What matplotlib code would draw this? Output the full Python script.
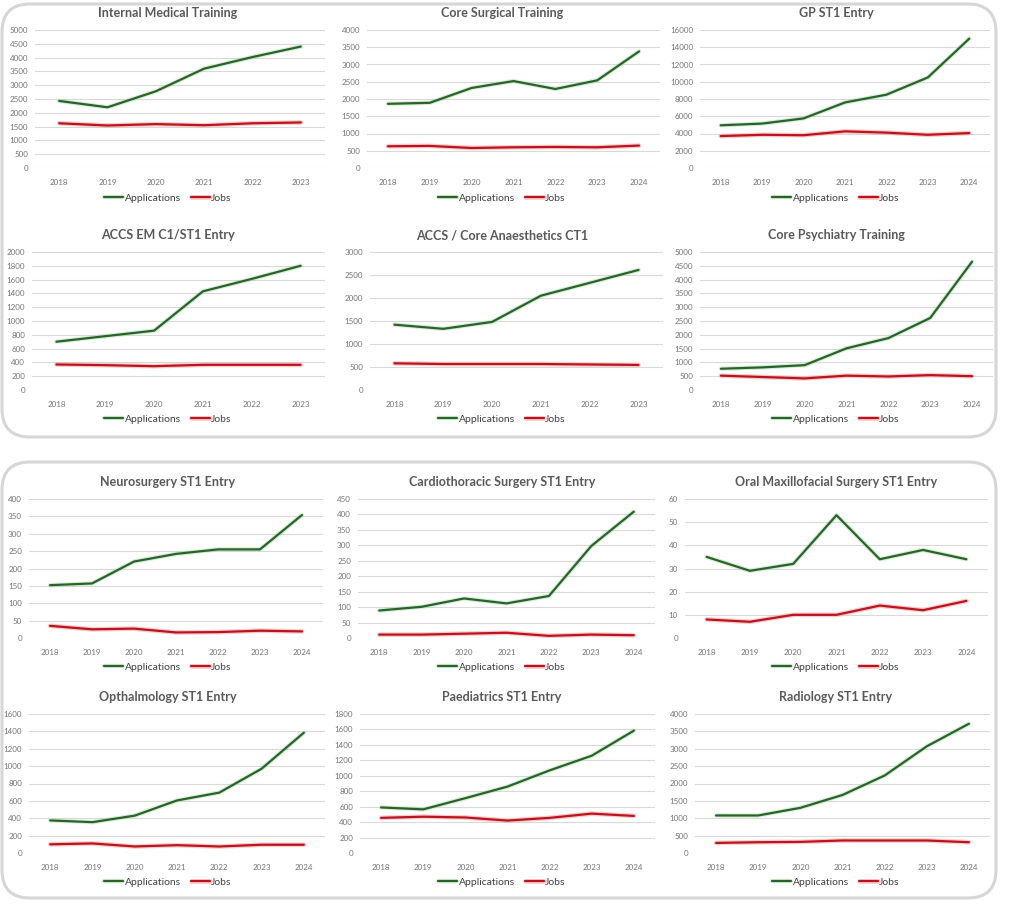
import matplotlib
matplotlib.use("Agg")
import matplotlib.pyplot as plt
import matplotlib.patheffects as pe
from matplotlib.patches import FancyBboxPatch
from matplotlib.transforms import IdentityTransform

# === dane ===
years_6 = ["2018", "2019", "2020", "2021", "2022", "2023"]
years_7 = ["2018", "2019", "2020", "2021", "2022", "2023", "2024"]

titles = [
    "Internal Medical Training", "Core Surgical Training", "GP ST1 Entry",
    "ACCS EM C1/ST1 Entry", "ACCS / Core Anaesthetics CT1", "Core Psychiatry Training",
    "Neurosurgery ST1 Entry", "Cardiothoracic Surgery ST1 Entry", "Oral Maxillofacial Surgery ST1 Entry",
    "Opthalmology ST1 Entry", "Paediatrics ST1 Entry", "Radiology ST1 Entry",
]

imt_apps = [2430, 2200, 2780, 3600, 4020, 4400]
imt_jobs = [1620, 1540, 1590, 1550, 1620, 1650]
cst_apps = [1860, 1890, 2320, 2520, 2290, 2540, 3380]
cst_jobs = [630, 640, 580, 600, 610, 600, 650]
gp_apps = [4950, 5150, 5750, 7600, 8500, 10500, 15000]
gp_jobs = [3700, 3850, 3800, 4250, 4100, 3850, 4050]
accs_em_apps = [700, 780, 860, 1430, 1610, 1800]
accs_em_jobs = [370, 360, 345, 365, 365, 365]
anaes_apps = [1420, 1330, 1480, 2050, 2330, 2610]
anaes_jobs = [580, 565, 565, 565, 555, 545]
psych_apps = [770, 820, 900, 1510, 1880, 2610, 4650]
psych_jobs = [520, 470, 420, 520, 490, 540, 500]
neuro_apps = [152, 157, 220, 242, 255, 255, 354]
neuro_jobs = [35, 25, 27, 16, 17, 21, 19]
cardio_apps = [89, 101, 128, 112, 136, 298, 409]
cardio_jobs = [11, 11, 14, 17, 7, 11, 9]
omfs_apps = [35, 29, 32, 53, 34, 38, 34]
omfs_jobs = [8, 7, 10, 10, 14, 12, 16]
ophth_apps = [375, 355, 430, 605, 695, 970, 1385]
ophth_jobs = [100, 110, 75, 90, 75, 95, 95]
paeds_apps = [590, 565, 710, 860, 1070, 1260, 1585]
paeds_jobs = [455, 470, 460, 420, 455, 510, 480]
radio_apps = [1080, 1080, 1300, 1670, 2230, 3070, 3720]
radio_jobs = [290, 310, 320, 360, 360, 360, 310]

y_max = [5000, 4000, 16000, 2000, 3000, 5000, 400, 450, 60, 1600, 1800, 4000]
y_step = [500, 500, 2000, 200, 500, 500, 50, 50, 10, 200, 200, 500]

panels = [
    (years_6, imt_apps, imt_jobs), (years_7, cst_apps, cst_jobs), (years_7, gp_apps, gp_jobs),
    (years_6, accs_em_apps, accs_em_jobs), (years_6, anaes_apps, anaes_jobs), (years_7, psych_apps, psych_jobs),
    (years_7, neuro_apps, neuro_jobs), (years_7, cardio_apps, cardio_jobs), (years_7, omfs_apps, omfs_jobs),
    (years_7, ophth_apps, ophth_jobs), (years_7, paeds_apps, paeds_jobs), (years_7, radio_apps, radio_jobs),
]

# === układ (piksele) ===
W, H = 1019, 914
rows_y = [(30, 168), (252, 390), (499, 638), (714, 853)]
cols_x = [
    [(35, 325), (367, 660), (700, 990)],
    [(32, 325), (370, 663), (700, 993)],
    [(29, 323), (358, 655), (685, 988)],
    [(29, 325), (360, 655), (695, 990)],
]
title_y = [13, 235, 482, 697]
legend_y = [198, 419, 667, 882]
title_cx = [168, 502, 836]

plt.rcParams["font.family"] = ["Lato", "DejaVu Sans"]

fig = plt.figure(figsize=(W / 100, H / 100), dpi=100)
fig.patch.set_facecolor("white")

# ramki z zaokrąglonymi rogami (pod wykresami)
for (x0, y0, x1, y1) in [(2, 4, 996, 437), (2, 462, 996, 898)]:
    box = FancyBboxPatch(
        (x0, H - y1), x1 - x0, y1 - y0,
        boxstyle="round,pad=0,rounding_size=28",
        transform=IdentityTransform(),
        facecolor="none", edgecolor="#d6d6d6", linewidth=2.2, zorder=-1,
    )
    fig.patches.append(box)

green = "#2a632a"
red = "#bb1420"

for i, (years, apps, jobs) in enumerate(panels):
    r, c = divmod(i, 3)
    xl, xr = cols_x[r][c]
    yt, yb = rows_y[r]
    ax = fig.add_axes([xl / W, 1 - yb / H, (xr - xl) / W, (yb - yt) / H])
    ax.patch.set_alpha(0)

    x = range(len(years))
    ax.plot(x, apps, color=green, linewidth=1.6, solid_capstyle="round",
            path_effects=[pe.Stroke(linewidth=3.2, foreground="#a8d8a8", alpha=0.45), pe.Normal()],
            label="Applications")
    ax.plot(x, jobs, color=red, linewidth=1.6, solid_capstyle="round",
            path_effects=[pe.Stroke(linewidth=3.4, foreground="#f4a0a0", alpha=0.55), pe.Normal()],
            label="Jobs")

    ax.set_xlim(-0.5, len(years) - 0.5)
    ax.set_ylim(0, y_max[i])
    ax.set_yticks(range(0, y_max[i] + 1, y_step[i]))
    ax.set_xticks(list(x))
    ax.set_xticklabels(years)
    ax.grid(axis="y", color="#d9d9d9", linewidth=0.8)
    ax.set_axisbelow(True)
    for s in ax.spines.values():
        s.set_visible(False)
    ax.tick_params(length=0, labelsize=5.8, colors="#757575", pad=5)
    ax.tick_params(axis="x", pad=8)

    fig.text(title_cx[c] / W, 1 - title_y[r] / H, titles[i], ha="center", va="center",
             fontsize=9, fontweight="bold", color="#595959")

    ax.legend(loc="center", bbox_to_anchor=(title_cx[c] / W, 1 - legend_y[r] / H),
              bbox_transform=fig.transFigure, ncol=2, frameon=False, fontsize=7.5,
              handlelength=1.8, handletextpad=0.15, columnspacing=1.0,
              labelcolor="#404040")

fig.savefig("out.png", dpi=100)
